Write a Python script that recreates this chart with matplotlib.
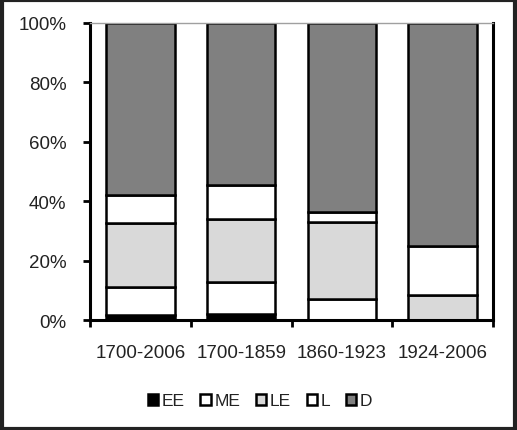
import numpy as np
import matplotlib
matplotlib.use("Agg")
import matplotlib.pyplot as plt
from matplotlib.patches import Rectangle

plt.rcParams["font.family"] = ["Liberation Sans Narrow", "Liberation Sans", "DejaVu Sans"]

periods = ["1700-2006", "1700-1859", "1860-1923", "1924-2006"]
series  = ["EE", "ME", "LE", "L", "D"]
ee = [1.7, 2.0, 0.0, 0.0]
me = [9.3, 10.9, 7.1, 0.0]
le = [21.5, 21.0, 25.8, 8.4]
l_ = [9.5, 11.5, 3.5, 16.4]
d  = [58.0, 54.6, 63.6, 75.2]
colors = ["#000000", "#ffffff", "#d9d9d9", "#ffffff", "#808080"]

fig = plt.figure(figsize=(5.17, 4.31), dpi=100)
ax = fig.add_axes([90 / 517, 1 - 321 / 431, 403 / 517, 297 / 431])

x = np.arange(len(periods))
bottom = np.zeros(len(periods))
for name, vals, c in zip(series, [ee, me, le, l_, d], colors):
    vals = np.array(vals)
    ax.bar(x, vals, bottom=bottom, width=0.68, color=c, edgecolor="black",
           linewidth=1.8, label=name, zorder=2)
    bottom += vals

ax.set_xlim(-0.5, len(periods) - 0.5)
ax.set_ylim(0, 100)
ax.set_yticks(np.arange(0, 101, 20))
ax.set_yticklabels([f"{v}%" for v in range(0, 101, 20)], fontsize=13.5, color="#222222")
ax.set_xticks(x)
ax.set_xticklabels(periods, fontsize=13.5, color="#222222")
ax.set_xticks(np.arange(-0.5, len(periods)), minor=True)
ax.tick_params(axis="x", which="major", length=0, pad=17)
ax.tick_params(axis="x", which="minor", length=5, width=2, direction="out")
ax.tick_params(axis="y", length=5, width=2, direction="out", pad=12)

for side in ["left", "bottom", "right"]:
    ax.spines[side].set_linewidth(2.2)
    ax.spines[side].set_color("black")
ax.spines["top"].set_linewidth(1)
ax.spines["top"].set_color("#a0a0a0")

handles = [Rectangle((0, 0), 1, 1, facecolor=c, edgecolor="black", linewidth=1.8)
           for c in colors]
fig.legend(handles, series, loc="center", bbox_to_anchor=(260 / 517, 1 - 402 / 431),
           ncol=5, frameon=False, fontsize=12.5, handlelength=0.6, handleheight=0.6,
           handletextpad=0.2, columnspacing=0.9, labelcolor="#222222")

fig.add_artist(Rectangle((0.003, 0.003), 0.994, 0.994, transform=fig.transFigure,
                         fill=False, edgecolor="#222222", linewidth=3))

fig.savefig("out.png", dpi=100)
